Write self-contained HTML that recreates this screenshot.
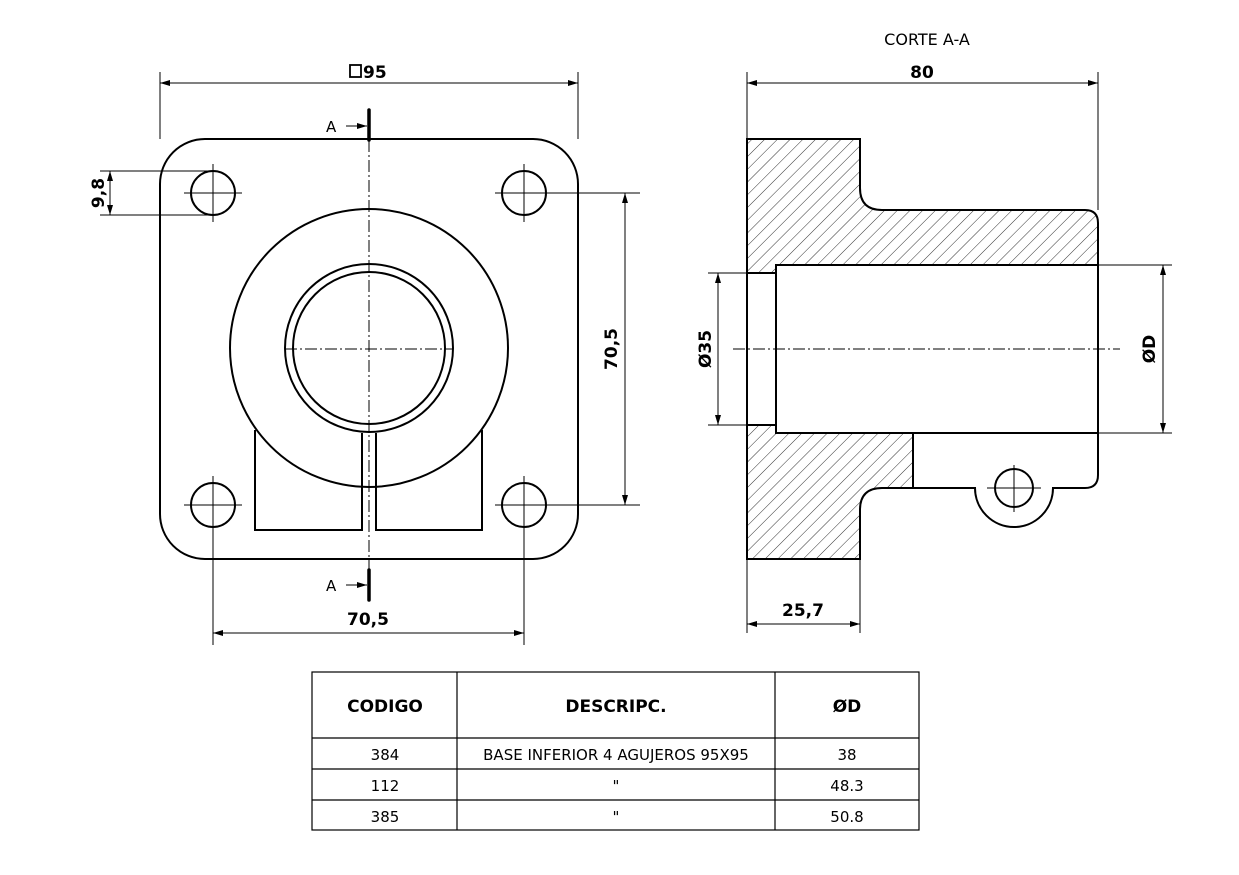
<!DOCTYPE html>
<html><head><meta charset="utf-8"><style>
html,body{margin:0;padding:0;background:#fff}
svg{display:block}
text{font-family:"DejaVu Sans","Liberation Sans",sans-serif;fill:#000}
.b{font-weight:bold;font-size:17px}
</style></head><body>
<svg width="1239" height="875" viewBox="0 0 1239 875" xmlns="http://www.w3.org/2000/svg">
<defs>
<pattern id="h" patternUnits="userSpaceOnUse" width="9" height="9" patternTransform="rotate(45)">
<line x1="0" y1="0" x2="0" y2="9" stroke="#000" stroke-width="0.8"/>
</pattern>
<marker id="a" markerWidth="10" markerHeight="6" refX="10" refY="3" orient="auto-start-reverse" markerUnits="userSpaceOnUse">
<path d="M0,0 L10,3 L0,6 z" fill="#000"/></marker>
</defs>

<!-- LEFT VIEW -->
<g fill="none" stroke="#000" stroke-width="2">
<rect x="160" y="139" width="418" height="420" rx="45" ry="45"/>
<circle cx="213" cy="193" r="22"/><circle cx="524" cy="193" r="22"/>
<circle cx="213" cy="505" r="22"/><circle cx="524" cy="505" r="22"/>
<circle cx="369" cy="348" r="139"/>
<circle cx="369" cy="348" r="84"/>
<circle cx="369" cy="348" r="76"/>
<path d="M255,430 V530 H362 V433 M376,433 V530 H482 V430"/>
</g>
<g stroke="#000" stroke-width="1">
<line x1="184" y1="193" x2="242" y2="193"/><line x1="213" y1="164" x2="213" y2="222"/>
<line x1="495" y1="193" x2="640" y2="193"/><line x1="524" y1="164" x2="524" y2="222"/>
<line x1="184" y1="505" x2="242" y2="505"/><line x1="213" y1="476" x2="213" y2="645"/>
<line x1="495" y1="505" x2="640" y2="505"/><line x1="524" y1="476" x2="524" y2="645"/>
<line x1="369" y1="140" x2="369" y2="570" stroke-dasharray="12,3,2,3"/>
<line x1="285" y1="349" x2="453" y2="349" stroke-dasharray="12,3,2,3"/>
</g>
<g stroke="#000" stroke-width="3.5" stroke-linecap="round">
<line x1="369" y1="110" x2="369" y2="140"/><line x1="369" y1="570" x2="369" y2="600"/>
</g>
<g stroke="#000" stroke-width="1">
<line x1="346" y1="126" x2="367" y2="126" marker-end="url(#a)"/>
<line x1="346" y1="585" x2="367" y2="585" marker-end="url(#a)"/>
</g>
<text x="326" y="132" font-size="15">A</text>
<text x="326" y="591" font-size="15">A</text>

<!-- dims left -->
<g stroke="#000" stroke-width="1">
<line x1="160" y1="72" x2="160" y2="139"/><line x1="578" y1="72" x2="578" y2="139"/>
<line x1="160" y1="83" x2="578" y2="83" marker-start="url(#a)" marker-end="url(#a)"/>
<line x1="100" y1="171" x2="213" y2="171"/><line x1="100" y1="215" x2="213" y2="215"/>
<line x1="110" y1="171" x2="110" y2="215" marker-start="url(#a)" marker-end="url(#a)"/>
<line x1="625" y1="193" x2="625" y2="505" marker-start="url(#a)" marker-end="url(#a)"/>
<line x1="213" y1="633" x2="524" y2="633" marker-start="url(#a)" marker-end="url(#a)"/>
</g>
<rect x="350" y="65" width="11" height="12" fill="none" stroke="#000" stroke-width="1.8"/>
<text class="b" x="363" y="78">95</text>
<text class="b" transform="translate(104,193) rotate(-90)" text-anchor="middle">9,8</text>
<text class="b" transform="translate(617,349) rotate(-90)" text-anchor="middle">70,5</text>
<text class="b" x="368" y="625" text-anchor="middle">70,5</text>

<!-- RIGHT VIEW -->
<path d="M747,139 H860 V188 Q860,210 882,210 H1085 Q1098,210 1098,223 V265 H776 V273 H747 Z" fill="url(#h)" stroke="#000" stroke-width="2"/>
<path d="M747,425 H776 V433 H913 V488 H882 Q860,488 860,510 V559 H747 Z" fill="url(#h)" stroke="#000" stroke-width="2"/>
<g fill="none" stroke="#000" stroke-width="2">
<rect x="776" y="265" width="322" height="168"/>
<rect x="747" y="273" width="29" height="152"/>
<path d="M913,488 H975 A39,39 0 0 0 1053,488 H1085 Q1098,488 1098,475 V433"/>
<circle cx="1014" cy="488" r="19"/>
</g>
<g stroke="#000" stroke-width="1">
<line x1="987" y1="488" x2="1041" y2="488"/><line x1="1014" y1="465" x2="1014" y2="512"/>
<line x1="733" y1="349" x2="1120" y2="349" stroke-dasharray="12,3,2,3"/>
<line x1="747" y1="72" x2="747" y2="139"/><line x1="1098" y1="72" x2="1098" y2="210"/>
<line x1="747" y1="83" x2="1098" y2="83" marker-start="url(#a)" marker-end="url(#a)"/>
<line x1="708" y1="273" x2="747" y2="273"/><line x1="708" y1="425" x2="747" y2="425"/>
<line x1="718" y1="273" x2="718" y2="425" marker-start="url(#a)" marker-end="url(#a)"/>
<line x1="1098" y1="265" x2="1172" y2="265"/><line x1="1098" y1="433" x2="1172" y2="433"/>
<line x1="1163" y1="265" x2="1163" y2="433" marker-start="url(#a)" marker-end="url(#a)"/>
<line x1="747" y1="559" x2="747" y2="633"/><line x1="860" y1="559" x2="860" y2="633"/>
<line x1="747" y1="624" x2="860" y2="624" marker-start="url(#a)" marker-end="url(#a)"/>
</g>
<text x="927" y="45" font-size="16" text-anchor="middle">CORTE A-A</text>
<text class="b" x="922" y="78" text-anchor="middle">80</text>
<text class="b" transform="translate(711,349) rotate(-90)" text-anchor="middle">Ø35</text>
<text class="b" transform="translate(1155,349) rotate(-90)" text-anchor="middle">ØD</text>
<text class="b" x="803" y="616" text-anchor="middle">25,7</text>

<!-- TABLE -->
<g fill="none" stroke="#000" stroke-width="1.2">
<rect x="312" y="672" width="607" height="158"/>
<line x1="312" y1="738" x2="919" y2="738"/>
<line x1="312" y1="769" x2="919" y2="769"/>
<line x1="312" y1="800" x2="919" y2="800"/>
<line x1="457" y1="672" x2="457" y2="830"/>
<line x1="775" y1="672" x2="775" y2="830"/>
</g>
<g text-anchor="middle">
<text class="b" x="385" y="712">CODIGO</text>
<text class="b" x="616" y="712">DESCRIPC.</text>
<text class="b" x="847" y="712">ØD</text>
<g font-size="15">
<text x="385" y="760">384</text><text x="616" y="760">BASE INFERIOR 4 AGUJEROS 95X95</text><text x="847" y="760">38</text>
<text x="385" y="791">112</text><text x="616" y="791">"</text><text x="847" y="791">48.3</text>
<text x="385" y="822">385</text><text x="616" y="822">"</text><text x="847" y="822">50.8</text>
</g></g>
</svg>
</body></html>
